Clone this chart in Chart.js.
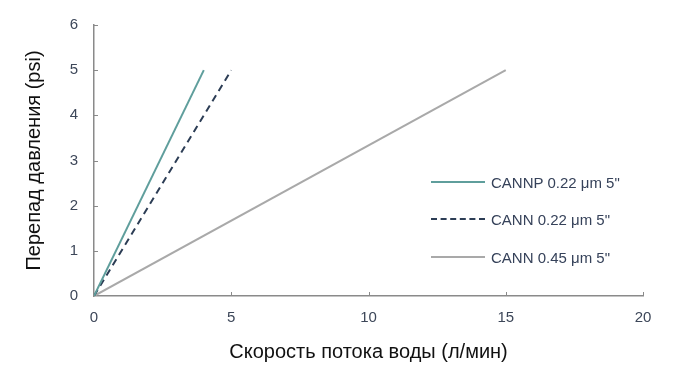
<!DOCTYPE html>
<html lang="ru">
<head>
<meta charset="UTF-8">
<title>Перепад давления</title>
<script src="https://cdn.jsdelivr.net/npm/chart.js"></script>
<style>
    html, body { margin: 0; padding: 0; background: #fff; }
    .wrap { position: relative; width: 678px; height: 372px; }
    .legend { position: absolute; left: 431px; top: 172px; font-family: "Liberation Sans", Arial, sans-serif; font-size: 15px; color: #36425a; }
    .legend .row { position: absolute; left: 0; height: 20px; white-space: nowrap; display: flex; align-items: center; }
    .legend .swatch { width: 54px; height: 0; margin-right: 6px; }
</style>
</head>
<body>
<div class="wrap">
    <canvas id="chart" width="678" height="372"></canvas>
    <div class="legend" id="legend"></div>
</div>

<script>
// Данные (перепад давления vs расход)
const seriesNames = ['CANNP 0.22 μm 5"', 'CANN 0.22 μm 5"', 'CANN 0.45 μm 5"'];
const flowCannp022 = [0, 4];
const dpCannp022 = [0, 5];
const flowCann022 = [0, 5];
const dpCann022 = [0, 5];
const flowCann045 = [0, 15];
const dpCann045 = [0, 5];
const xTicks = [0, 5, 10, 15, 20];
const yTicks = [0, 1, 2, 3, 4, 5, 6];

const colors = ['#5f9e9c', '#2c3d55', '#a9a9a9'];
const dashes = [[], [7, 5], []];

function toPoints(xs, ys) {
    return xs.map((x, i) => ({ x: x, y: ys[i] }));
}

const datasets = [
    toPoints(flowCannp022, dpCannp022),
    toPoints(flowCann022, dpCann022),
    toPoints(flowCann045, dpCann045)
].map((pts, i) => ({
    label: seriesNames[i],
    data: pts,
    showLine: true,
    borderColor: colors[i],
    backgroundColor: colors[i],
    borderWidth: 2,
    borderDash: dashes[i],
    pointRadius: 0,
    fill: false
}));

// маленькие засечки внутрь области графика
const innerTicks = {
    id: 'innerTicks',
    afterDraw(chart) {
        const ctx = chart.ctx;
        const xs = chart.scales.x, ys = chart.scales.y;
        const area = chart.chartArea;
        ctx.save();
        ctx.strokeStyle = '#8a8a8a';
        ctx.lineWidth = 1;
        xTicks.forEach(v => {
            if (v === 0) return;
            const px = Math.round(xs.getPixelForValue(v)) + 0.5;
            ctx.beginPath();
            ctx.moveTo(px, area.bottom);
            ctx.lineTo(px, area.bottom - 4);
            ctx.stroke();
        });
        yTicks.forEach(v => {
            if (v === 0) return;
            const py = Math.round(ys.getPixelForValue(v)) + 0.5;
            ctx.beginPath();
            ctx.moveTo(area.left, py);
            ctx.lineTo(area.left + 4, py);
            ctx.stroke();
        });
        ctx.restore();
    }
};

const tickFont = { family: '"Liberation Sans", Arial, sans-serif', size: 15 };
const titleFont = { family: '"Liberation Sans", Arial, sans-serif', size: 20 };

new Chart(document.getElementById('chart'), {
    type: 'scatter',
    data: { datasets: datasets },
    options: {
        responsive: false,
        animation: false,
        layout: { padding: { left: 0, right: 35, top: 25, bottom: 0 } },
        plugins: {
            legend: { display: false },
            tooltip: { enabled: false }
        },
        scales: {
            x: {
                type: 'linear',
                min: 0,
                max: 20,
                afterFit: s => { s.height = 76; },
                afterBuildTicks: s => { s.ticks = xTicks.map(v => ({ value: v })); },
                border: { display: true, color: '#8a8a8a', width: 1.5 },
                grid: { display: false, drawTicks: false },
                ticks: { color: '#3d4759', font: tickFont, padding: 13 },
                title: { display: true, text: 'Скорость потока воды (л/мин)', color: '#111', font: titleFont, padding: { top: 0, bottom: 8 } }
            },
            y: {
                type: 'linear',
                min: 0,
                max: 6,
                afterFit: s => { s.width = 94; },
                afterBuildTicks: s => { s.ticks = yTicks.map(v => ({ value: v })); },
                border: { display: true, color: '#8a8a8a', width: 1.5 },
                grid: { display: false, drawTicks: false },
                ticks: { color: '#3d4759', font: tickFont, padding: 16 },
                title: { display: true, text: 'Перепад давления (psi)', color: '#111', font: titleFont, padding: { top: 22, bottom: 0 } }
            }
        }
    },
    plugins: [innerTicks]
});

// легенда справа
const legend = document.getElementById('legend');
const rowTops = [0, 37, 75];
datasets.forEach((ds, i) => {
    const row = document.createElement('div');
    row.className = 'row';
    row.style.top = rowTops[i] + 'px';
    const sw = document.createElement('span');
    sw.className = 'swatch';
    sw.style.borderTop = '2px ' + (ds.borderDash.length ? 'dashed ' : 'solid ') + ds.borderColor;
    const txt = document.createElement('span');
    txt.textContent = ds.label;
    row.appendChild(sw);
    row.appendChild(txt);
    legend.appendChild(row);
});
</script>
</body>
</html>
